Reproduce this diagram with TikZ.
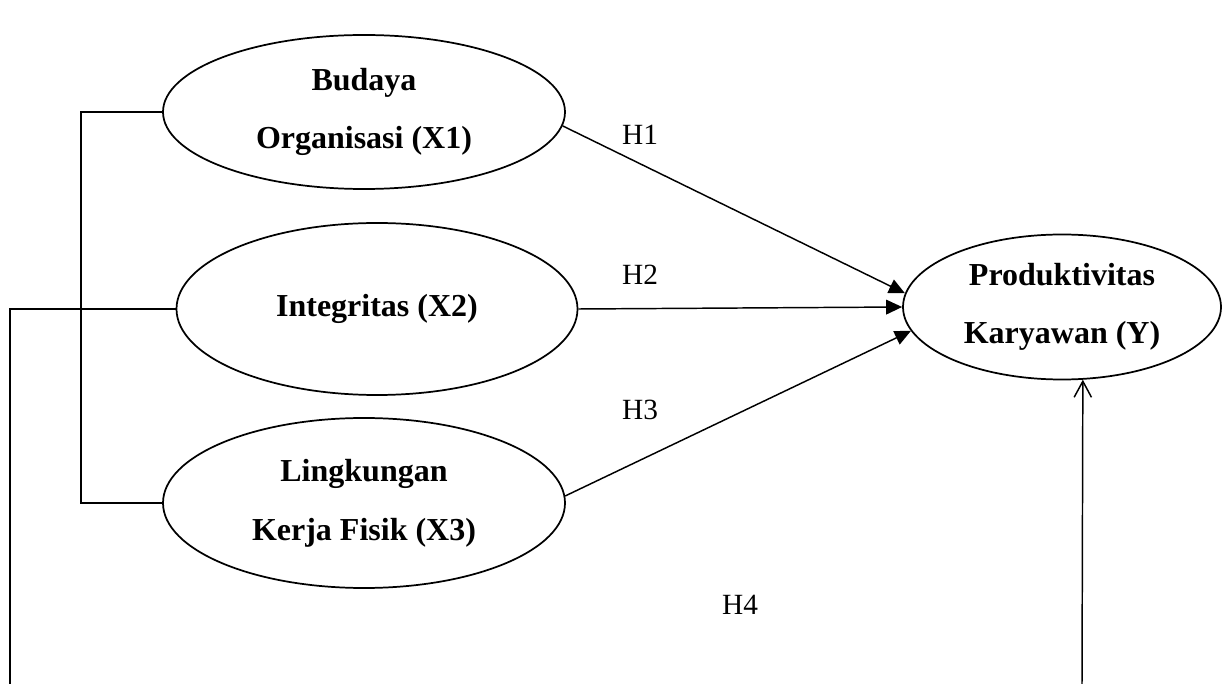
\documentclass[tikz,border=0pt]{standalone}
\usepackage{fontspec}
\setmainfont{Liberation Serif}
\usepackage{tikz}
\usetikzlibrary{arrows.meta,shapes.geometric}

\begin{document}
\begin{tikzpicture}[x=0.75pt, y=-0.75pt,
    var/.style={draw, ellipse, line width=1.3pt, inner sep=0pt, align=center,
        font=\bfseries\fontsize{24}{44}\selectfont},
    hyp/.style={font=\fontsize{22}{26}\selectfont},
    path/.style={line width=1.1pt, -{Triangle[length=12pt,width=11pt]}}]
    \useasboundingbox (0,0) rectangle (1222,684);
    % variabel
    \node[var, minimum width=301.5pt, minimum height=115.5pt] (budaya) at (364,112) {Budaya\\Organisasi (X1)};
    \node[var, minimum width=300.75pt, minimum height=129pt] (integ) at (377,309) {Integritas (X2)};
    \node[var, minimum width=301.5pt, minimum height=127.5pt] (lingk) at (364,503) {Lingkungan\\Kerja Fisik (X3)};
    \node[var, minimum width=238.5pt, minimum height=108.75pt] (prod) at (1062,307) {Produktivitas\\Karyawan (Y)};
    % hipotesis
    \draw[path] (budaya.-4) -- (prod.175);
    \draw[path] (integ.east) -- (prod.west);
    \draw[path] (lingk.2) -- (prod.189);
    \node[hyp] (h1) at (640,135) {H1};
    \node[hyp] (h2) at (640,275) {H2};
    \node[hyp] (h3) at (640,410) {H3};
    \node[hyp] (h4) at (740,605) {H4};
    % simultan
    \coordinate (kiri) at (10,684);
    \coordinate (kanan) at (1082,684);
    \draw[line width=1.1pt] (budaya.west) -- (budaya.west -| 81,0) |- (lingk.west);
    \draw[line width=1.1pt] (kiri) |- (integ.west);
    \draw[line width=1.1pt, -{Straight Barb[length=12pt,width=13pt]}] (kanan) -- (prod.-74);
\end{tikzpicture}
\end{document}
